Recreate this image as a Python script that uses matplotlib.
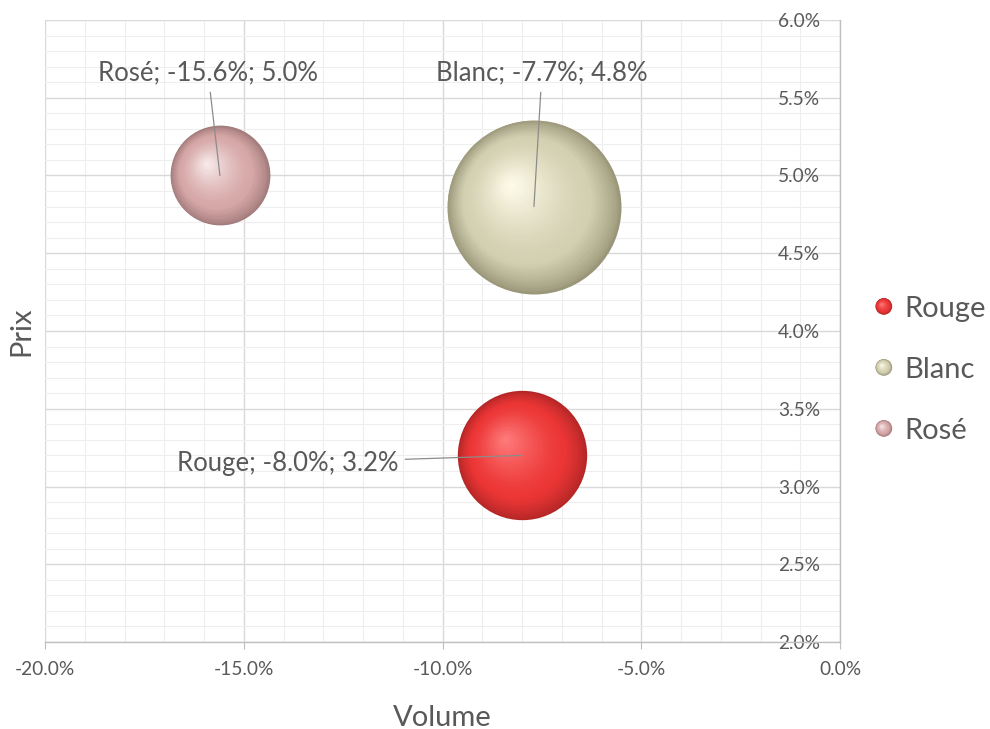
#!/usr/bin/env python3
"""Bubble chart: wine volume vs price change (Rouge / Blanc / Rosé)."""

import matplotlib

matplotlib.use("Agg")
import matplotlib.pyplot as plt
import numpy as np
from matplotlib import transforms
from matplotlib.colors import to_rgb
from matplotlib.legend_handler import HandlerBase
from matplotlib.patches import Circle
from matplotlib.ticker import FuncFormatter, MultipleLocator

# data (percent units)
series = ["Rouge", "Blanc", "Rosé"]
volume = [-8.0, -7.7, -15.6]
prix = [3.2, 4.8, 5.0]
bubble_size = [4.2, 7.6, 2.5]
label_pos_x = [-13.9, -7.5, -15.9]
label_pos_y = [3.15, 5.66, 5.66]

# edge, base, highlight colours for the sphere look
sphere_colors = {
    "Rouge": ("#b42626", "#ec3636", "#ff7c7c"),
    "Blanc": ("#9a9679", "#d3cfb1", "#fffcea"),
    "Rosé": ("#a27a7a", "#d6a7a7", "#f9ebeb"),
}

TEXT = "#595959"
SIZE_SCALE = 2065.0
LAYERS = 50

plt.rcParams["font.family"] = ["Lato", "DejaVu Sans"]


def shade(cols, t):
    edge, base, hi = (np.array(to_rgb(c)) for c in cols)
    if t < 0.3:
        f = (t / 0.3) ** 0.8
        return tuple(edge + (base - edge) * f)
    f = ((t - 0.3) / 0.7) ** 1.5
    return tuple(base + (hi - base) * f)


def draw_sphere(ax, fig, x, y, size, cols):
    radius = np.sqrt(size * SIZE_SCALE) / 2.0  # points
    hx, hy = -0.27 * radius, 0.25 * radius
    for i in range(LAYERS):
        t = i / LAYERS
        r = radius * (1 - t) ** 0.85
        off = transforms.offset_copy(ax.transData, fig=fig, x=hx * t, y=hy * t, units="points")
        ax.scatter([x], [y], s=(2 * r) ** 2, color=[shade(cols, t)], linewidths=0,
                   transform=off, zorder=3 + i * 0.01)


class SphereHandler(HandlerBase):
    def create_artists(self, legend, orig_handle, xdescent, ydescent, width, height, fontsize, trans):
        cols = sphere_colors[orig_handle.get_label()]
        cx, cy = width / 2 - xdescent, height / 2 - ydescent
        radius = 6.0
        artists = []
        for i in range(24):
            t = i / 24
            r = radius * (1 - t) ** 0.85
            c = Circle((cx - 0.27 * radius * t, cy + 0.25 * radius * t), r,
                       facecolor=shade(cols, t), edgecolor="none", transform=trans)
            artists.append(c)
        return artists


fig = plt.figure(figsize=(9.9, 7.29), dpi=100)
ax = fig.add_axes([0.0455, 0.1193, 0.803, 0.8533])

handles = []
for name, vx, vy, sz in zip(series, volume, prix, bubble_size):
    draw_sphere(ax, fig, vx, vy, sz, sphere_colors[name])
    h = ax.scatter([], [], label=name)
    handles.append(h)

for name, vx, vy, lx, ly in zip(series, volume, prix, label_pos_x, label_pos_y):
    ax.annotate(f"{name}; {vx:.1f}%; {vy:.1f}%", xy=(vx, vy), xytext=(lx, ly),
                ha="center", va="center", fontsize=18.5, color=TEXT, zorder=10,
                arrowprops=dict(arrowstyle="-", color="#8c8c8c", lw=0.9,
                                shrinkA=3, shrinkB=0))

ax.set_xlim(-20, 0)
ax.set_ylim(2, 6)
ax.xaxis.set_major_locator(MultipleLocator(5))
ax.xaxis.set_minor_locator(MultipleLocator(1))
ax.yaxis.set_major_locator(MultipleLocator(0.5))
ax.yaxis.set_minor_locator(MultipleLocator(0.1))
pct = FuncFormatter(lambda v, _: f"{v:.1f}%")
ax.xaxis.set_major_formatter(pct)
ax.yaxis.set_major_formatter(pct)

ax.grid(which="major", color="#d9d9d9", lw=1.0, zorder=0)
ax.grid(which="minor", color="#eeeeee", lw=0.8, zorder=0)
ax.set_axisbelow(True)

for side in ("top", "left"):
    ax.spines[side].set_visible(False)
for side in ("bottom", "right"):
    ax.spines[side].set_color("#bfbfbf")
    ax.spines[side].set_linewidth(1.0)

ax.tick_params(axis="x", which="major", length=5, color="#bfbfbf", labelsize=13.8,
               labelcolor=TEXT, pad=9)
ax.tick_params(axis="x", which="minor", length=0)
ax.tick_params(axis="y", which="both", left=False, right=False, labelleft=False,
               labelright=True, labelsize=13.8, labelcolor=TEXT, pad=-18)
for lbl in ax.get_yticklabels():
    lbl.set_horizontalalignment("right")

ax.set_xlabel("Volume", fontsize=21, color=TEXT, labelpad=19)
ax.set_ylabel("Prix", fontsize=21, color=TEXT, labelpad=8)

fig.legend(handles=handles, labels=series, handler_map={type(handles[0]): SphereHandler()},
           loc="center left", bbox_to_anchor=(0.853, 0.493), frameon=False,
           fontsize=21, labelcolor=TEXT, handlelength=0.9, handletextpad=0.25,
           labelspacing=1.2)

fig.savefig("out.png", dpi=100)
